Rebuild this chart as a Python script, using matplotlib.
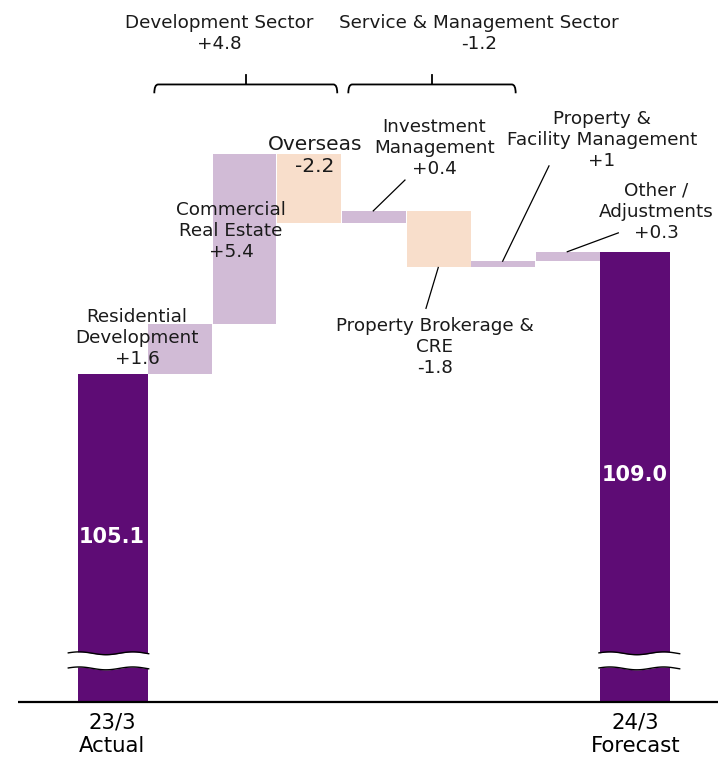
import numpy as np
import matplotlib
matplotlib.use("Agg")
import matplotlib.pyplot as plt
from matplotlib.path import Path
from matplotlib.patches import PathPatch

# ---------------- data ----------------
start_label = "23/3\nActual"
end_label = "24/3\nForecast"
start_value = 105.1
end_value = 109.0
step_names = ["Residential\nDevelopment", "Commercial\nReal Estate", "Overseas",
              "Investment\nManagement", "Property Brokerage &\nCRE",
              "Property &\nFacility Management", "Other /\nAdjustments"]
step_values = [1.6, 5.4, -2.2, 0.4, -1.8, 0.2, 0.3]
step_texts = ["+1.6", "+5.4", "-2.2", "+0.4", "-1.8", "+1", "+0.3"]
sector_names = ["Development Sector", "Service & Management Sector"]
sector_texts = ["+4.8", "-1.2"]

# ---------------- style ----------------
DARK = "#5E0C75"
POS = "#D1BBD6"
NEG = "#F8DECB"
FONT = "DejaVu Sans"
plt.rcParams["font.family"] = FONT
FS = 13.2
FLOOR = 94.69

fig = plt.figure(figsize=(7.21, 7.58), dpi=100)
ax = fig.add_axes([0, 0, 1, 1])
ax.set_xlim(-1.783, 9.366)
ax.set_ylim(92.90, 117.006)
ax.axis("off")

# cumulative waterfall
bottoms, heights = [], []
level = start_value
for v in step_values:
    bottoms.append(level if v >= 0 else level + v)
    heights.append(abs(v))
    level += v
xs = np.arange(1, len(step_values) + 1)
colors = [POS if v >= 0 else NEG for v in step_values]
ax.bar(xs, heights, bottom=bottoms, width=0.985, color=colors, zorder=2, linewidth=0)

# totals
ax.bar([-0.04], [start_value - FLOOR], bottom=FLOOR, width=1.08, color=DARK, zorder=2, linewidth=0)
ax.bar([len(step_values) + 1.04], [end_value - FLOOR], bottom=FLOOR, width=1.08, color=DARK, zorder=2, linewidth=0)

# axis line
ax.plot([-1.5, 9.32], [FLOOR, FLOOR], color="black", lw=1.6, zorder=4, solid_capstyle="butt")

# break marks
def brk(x0, x1):
    t = np.linspace(0, 1, 80)
    xx = x0 + (x1 - x0) * t
    w = 0.045 * np.sin(2 * np.pi * 1.5 * t + 0.3)
    y_hi = 96.23 + w
    y_lo = 95.75 + w
    ax.fill_between(xx, y_lo, y_hi, color="white", zorder=3, linewidth=0)
    ax.plot(xx, y_hi, color="black", lw=1.0, zorder=4)
    ax.plot(xx, y_lo, color="black", lw=1.0, zorder=4)

brk(-0.727, 0.516)
brk(7.479, 8.727)

# total labels
ax.text(-0.056, 99.94, f"{start_value:.1f}", color="white", fontsize=15, fontweight="bold",
        ha="center", va="center", zorder=5)
ax.text(8.036, 101.9, f"{end_value:.1f}", color="white", fontsize=15, fontweight="bold",
        ha="center", va="center", zorder=5)

# category labels at bottom
ax.text(-0.05, 93.65, start_label, fontsize=15.3, ha="center", va="center", linespacing=1.2)
ax.text(8.047, 93.65, end_label, fontsize=15.3, ha="center", va="center", linespacing=1.2)

# step labels
label_pos = [(0.335, 106.27), (1.789, 109.67), (3.083, 112.05), (4.935, 112.29),
             (4.943, 105.97), (7.525, 112.56), (8.36, 110.27)]
for i, (name, txt, (lx, ly)) in enumerate(zip(step_names, step_texts, label_pos)):
    fs = 14.5 if i == 2 else FS
    ax.text(lx, ly, f"{name}\n{txt}", fontsize=fs, ha="center", va="center",
            linespacing=1.22, zorder=6, color="#1a1a1a")

# leader lines (start on bar edge)
tops = [b + h for b, h in zip(bottoms, heights)]
leaders = {
    3: ((3.989, tops[3]), (4.479, 111.28)),
    4: ((4.994, bottoms[4]), (4.804, 107.2)),
    5: ((5.99, tops[5]), (6.706, 111.73)),
    6: ((6.989, tops[6]), (7.778, 109.6)),
}
for k, (p0, p1) in leaders.items():
    ax.plot([p0[0], p1[0]], [p0[1], p1[1]], color="black", lw=0.9, zorder=5)

# sector brackets
def bracket(x0, x1, xm):
    ytop, ybot, ytick = 114.32, 114.04, 114.62
    r = 0.06
    verts = [(x0, ybot), (x0, ytop), (x0 + r, ytop), (x1 - r, ytop), (x1, ytop), (x1, ybot)]
    codes = [Path.MOVETO, Path.CURVE3, Path.CURVE3, Path.LINETO, Path.CURVE3, Path.CURVE3]
    ax.add_patch(PathPatch(Path(verts, codes), fill=False, lw=1.3, edgecolor="black"))
    ax.plot([xm, xm], [ytop, ytick], color="black", lw=1.3)

bracket(0.603, 3.432, 2.02)
bracket(3.603, 6.191, 4.897)

ax.text(1.603, 115.95, f"{sector_names[0]}\n{sector_texts[0]}", fontsize=FS,
        ha="center", va="center", linespacing=1.2, color="#1a1a1a")
ax.text(5.624, 115.95, f"{sector_names[1]}\n{sector_texts[1]}", fontsize=FS,
        ha="center", va="center", linespacing=1.2, color="#1a1a1a")

fig.savefig("out.png", dpi=100)
